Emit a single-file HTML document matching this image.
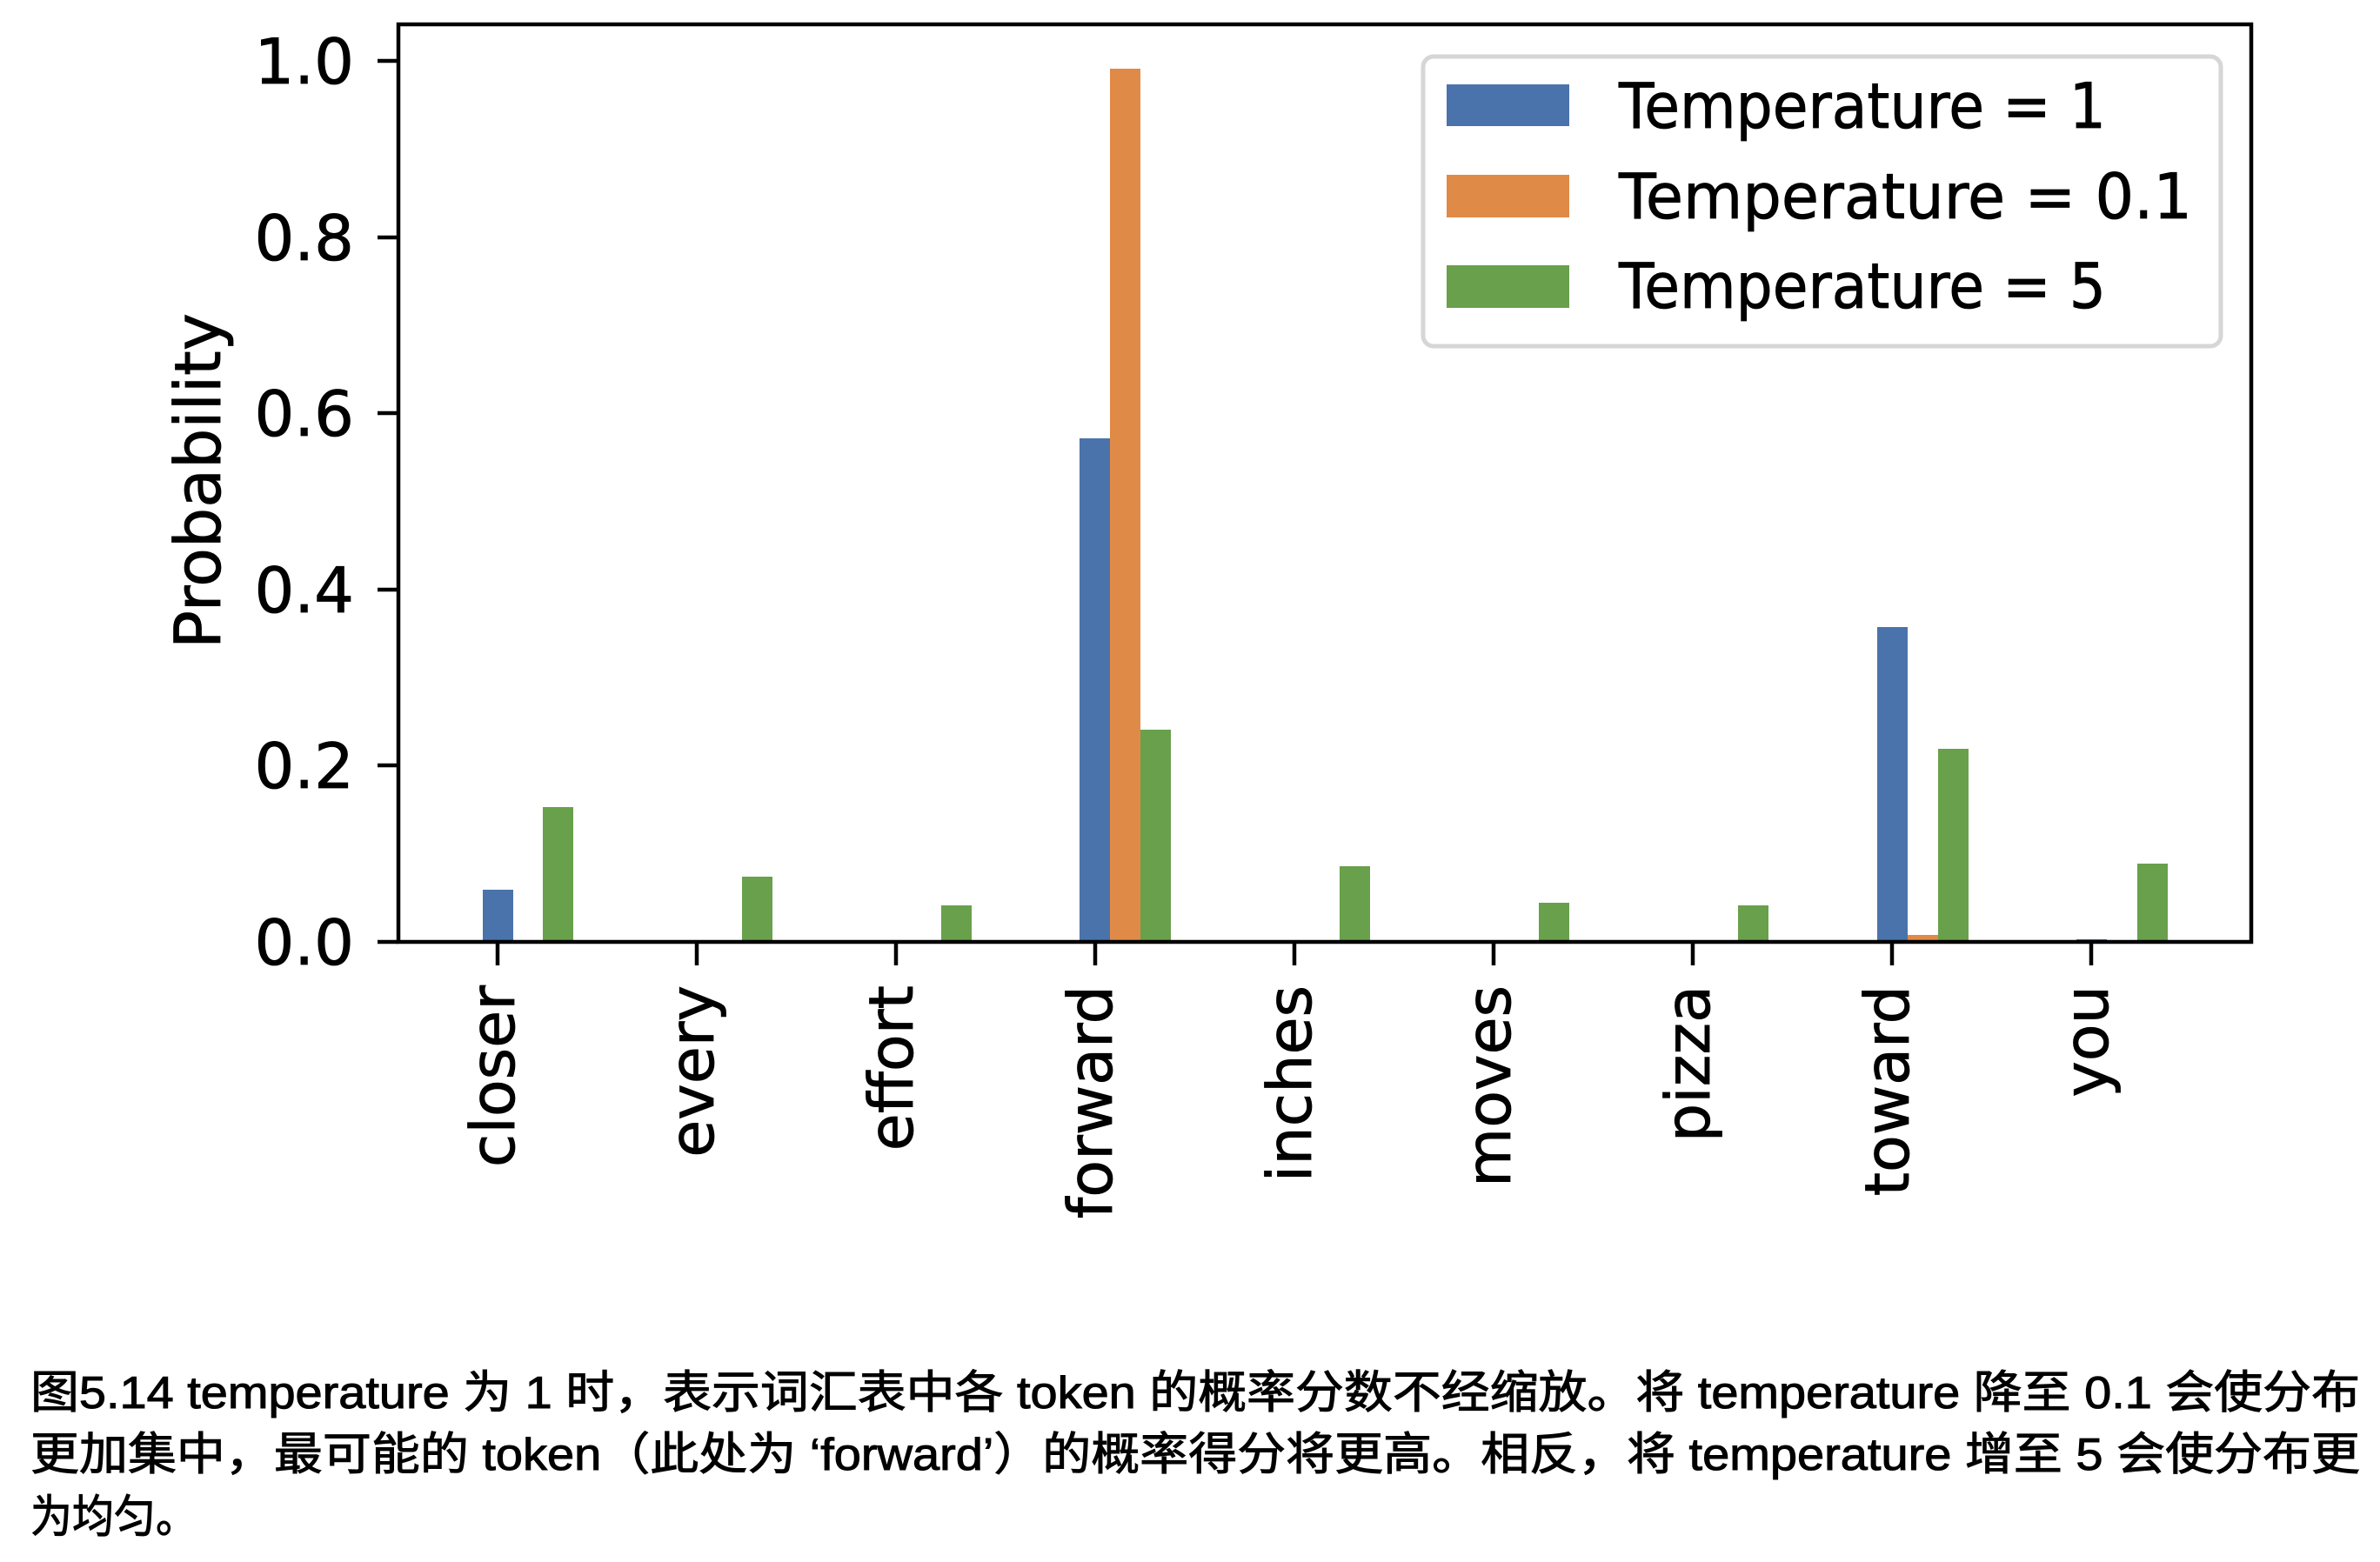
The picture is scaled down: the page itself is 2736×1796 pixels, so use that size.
<!DOCTYPE html>
<html><head><meta charset="utf-8"><style>
html,body{margin:0;padding:0;background:#fff;}
svg{display:block;}
</style></head><body>
<svg width="2736" height="1796" viewBox="0 0 2736 1796" xmlns="http://www.w3.org/2000/svg">
<rect width="2736" height="1796" fill="#fff"/>
<g font-family="DejaVu Sans, sans-serif" fill="#000">
<g>
<rect x="555" y="1023" width="35" height="60" fill="#4a73ab"/>
<rect x="624" y="928" width="35" height="155" fill="#69a04b"/>
<rect x="853" y="1008" width="35" height="75" fill="#69a04b"/>
<rect x="1082" y="1041" width="35" height="42" fill="#69a04b"/>
<rect x="1241" y="504" width="35" height="579" fill="#4a73ab"/>
<rect x="1276" y="79" width="35" height="1004" fill="#e08a48"/>
<rect x="1311" y="839" width="35" height="244" fill="#69a04b"/>
<rect x="1540" y="996" width="35" height="87" fill="#69a04b"/>
<rect x="1769" y="1038" width="35" height="45" fill="#69a04b"/>
<rect x="1998" y="1041" width="35" height="42" fill="#69a04b"/>
<rect x="2158" y="721" width="35" height="362" fill="#4a73ab"/>
<rect x="2193" y="1075" width="35" height="8" fill="#e08a48"/>
<rect x="2228" y="861" width="35" height="222" fill="#69a04b"/>
<rect x="2387" y="1080" width="35" height="3" fill="#4a73ab"/>
<rect x="2457" y="993" width="35" height="90" fill="#69a04b"/>
</g>
<rect x="458" y="28" width="2130" height="1055" fill="none" stroke="#000" stroke-width="4.5"/>
<g stroke="#000" stroke-width="4.5">
<line x1="434" y1="1083" x2="458" y2="1083"/>
<line x1="434" y1="880" x2="458" y2="880"/>
<line x1="434" y1="678" x2="458" y2="678"/>
<line x1="434" y1="475" x2="458" y2="475"/>
<line x1="434" y1="273" x2="458" y2="273"/>
<line x1="434" y1="70" x2="458" y2="70"/>
<line x1="572" y1="1083" x2="572" y2="1110"/>
<line x1="801" y1="1083" x2="801" y2="1110"/>
<line x1="1030" y1="1083" x2="1030" y2="1110"/>
<line x1="1259" y1="1083" x2="1259" y2="1110"/>
<line x1="1488" y1="1083" x2="1488" y2="1110"/>
<line x1="1717" y1="1083" x2="1717" y2="1110"/>
<line x1="1946" y1="1083" x2="1946" y2="1110"/>
<line x1="2175" y1="1083" x2="2175" y2="1110"/>
<line x1="2404" y1="1083" x2="2404" y2="1110"/>
</g>
<g font-size="72" text-anchor="end" stroke="#000" stroke-width="0.8">
<text x="407" y="1109">0.0</text>
<text x="407" y="906">0.2</text>
<text x="407" y="704">0.4</text>
<text x="407" y="501">0.6</text>
<text x="407" y="299">0.8</text>
<text x="407" y="96">1.0</text>
</g>
<text transform="translate(253,553) rotate(-90)" font-size="73" text-anchor="middle" stroke="#000" stroke-width="0.8">Probability</text>
<g font-size="70" text-anchor="end" stroke="#000" stroke-width="0.8">
<text transform="translate(591,1133) rotate(-90)">closer</text>
<text transform="translate(820,1133) rotate(-90)">every</text>
<text transform="translate(1049,1133) rotate(-90)">effort</text>
<text transform="translate(1278,1133) rotate(-90)">forward</text>
<text transform="translate(1507,1133) rotate(-90)">inches</text>
<text transform="translate(1736,1133) rotate(-90)">moves</text>
<text transform="translate(1965,1133) rotate(-90)">pizza</text>
<text transform="translate(2194,1133) rotate(-90)">toward</text>
<text transform="translate(2423,1133) rotate(-90)">you</text>
</g>
<rect x="1636" y="65" width="917" height="333" rx="12" fill="#fff" stroke="#d6d6d6" stroke-width="5"/>
<rect x="1663" y="97" width="141" height="48" fill="#4a73ab"/>
<rect x="1663" y="201" width="141" height="49" fill="#e08a48"/>
<rect x="1663" y="305" width="141" height="49" fill="#69a04b"/>
<g font-size="72" stroke="#000" stroke-width="0.8">
<text x="1861" y="147" textLength="560" lengthAdjust="spacingAndGlyphs">Temperature = 1</text>
<text x="1861" y="251" textLength="659" lengthAdjust="spacingAndGlyphs">Temperature = 0.1</text>
<text x="1861" y="354" textLength="560" lengthAdjust="spacingAndGlyphs">Temperature = 5</text>
</g>
</g>
<g font-family="Liberation Sans, Noto Sans CJK SC, sans-serif" font-size="52" fill="#000" stroke="#000" stroke-width="1">
<text x="35" y="1619" textLength="2678" lengthAdjust="spacingAndGlyphs">图5.14 temperature 为 1 时，表示词汇表中各 token 的概率分数不经缩放。将 temperature 降至 0.1 会使分布</text>
<text x="35" y="1690" textLength="2678" lengthAdjust="spacingAndGlyphs">更加集中，最可能的 token（此处为 ‘forward’）的概率得分将更高。相反，将 temperature 增至 5 会使分布更</text>
<text x="35" y="1762" textLength="192" lengthAdjust="spacingAndGlyphs">为均匀。</text>
</g>
</svg>
</body></html>
